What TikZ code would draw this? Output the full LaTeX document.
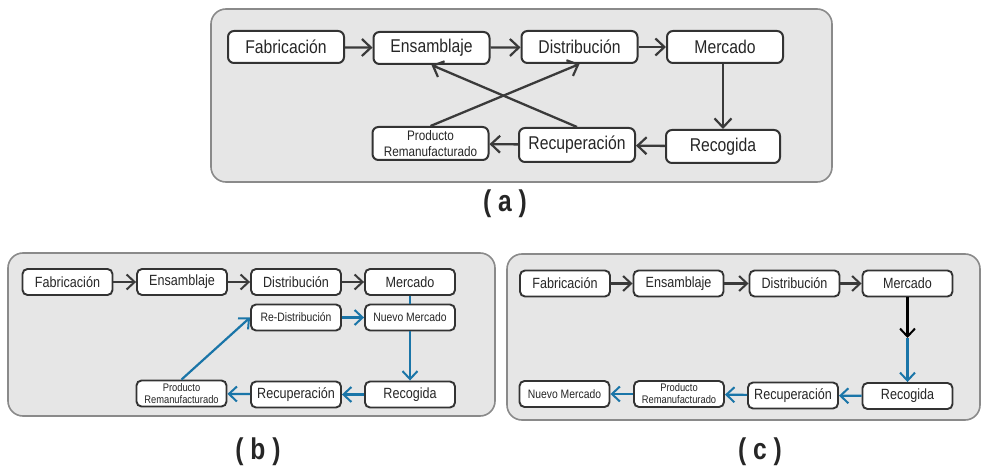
\documentclass[tikz,border=0pt]{standalone}
\usepackage{fontspec}
\newfontfamily\nf[FakeStretch=0.85]{Liberation Sans}
\newfontfamily\nfl[FakeStretch=0.82]{Liberation Sans}
\usetikzlibrary{arrows.meta}
\definecolor{panelfill}{HTML}{E6E6E6}
\definecolor{panelline}{HTML}{8A8A8A}
\definecolor{boxline}{HTML}{333333}
\definecolor{arrgray}{HTML}{3A3A3A}
\definecolor{arrblue}{HTML}{1A75A8}
\tikzset{
  panel/.style={draw=panelline, fill=panelfill, line width=1.6pt, rounded corners=15pt},
  bigbox/.style={draw=boxline, fill=white, line width=2pt, rounded corners=6pt,
     minimum width=116pt, minimum height=32pt, inner sep=0pt, align=center,
     text=black!85, font=\nf\fontsize{18.5}{20}\selectfont},
  bigsmall/.style={bigbox, font=\nf\fontsize{13.8}{15.5}\selectfont},
  smbox/.style={draw=boxline, fill=white, line width=1.9pt, rounded corners=5pt,
     minimum width=90pt, minimum height=26pt, inner sep=0pt, align=center,
     text=black!85, font=\nf\fontsize{14.8}{16}\selectfont},
  smsmall/.style={smbox, font=\nf\fontsize{12.2}{13}\selectfont},
  smtiny/.style={smbox, font=\nf\fontsize{11}{12}\selectfont},
  tipA/.tip={Straight Barb[length=9pt,width=17pt,line width=2.2pt]},
  tipB/.tip={Straight Barb[length=8pt,width=15pt,line width=2pt]},
  garr/.style={draw=arrgray, line width=2.3pt, -tipA},
  barr/.style={draw=arrblue, line width=2.3pt, -tipA},
  garrs/.style={draw=arrgray, line width=2.2pt, -tipB},
  barrs/.style={draw=arrblue, line width=2.2pt, -tipB},
  bline/.style={draw=arrblue, line width=2.2pt},
  lab/.style={font=\nfl\bfseries\fontsize{30}{34}\selectfont, text=black!85}
}
\begin{document}
\begin{tikzpicture}[x=1pt,y=-1pt]
\useasboundingbox (0,0) rectangle (983,468);
% ---------------- panel (a)
\draw[panel] (211,9) rectangle (832,182);
\node[bigbox] (aF) at (286,47) {Fabricación};
\node[bigbox] (aE) at (431.5,48) {Ensamblaje};
\node[bigbox] (aD) at (579.5,47) {Distribución};
\node[bigbox] (aM) at (725,47) {Mercado};
\node[bigsmall, minimum height=33pt] (aP) at (430.5,143.5) {Producto\\Remanufacturado};
\node[bigbox, minimum height=34pt] (aR) at (577,145) {Recuperación};
\node[bigbox, minimum width=114pt, minimum height=33pt] (aG) at (723,146.5) {Recogida};
\draw[garr] (aF) -- (aE);
\draw[garr] (aE) -- (aD);
\draw[garr] (aD) -- (aM);
\draw[garr] (aM.south -| aG.north) -- (aG.north);
\draw[garr] (aG) -- (aR);
\draw[garr] (aR) -- (aP);
\draw[garr] (aP.north) -- (aD.south);
\draw[garr] (aR.north) -- (aE.south);
\node[lab] (la) at (505,204) {( a )};
% ---------------- panel (b)
\draw[panel] (8,253) rectangle (495,416);
\node[smbox] (bF) at (67.5,282) {Fabricación};
\node[smbox] (bE) at (182,282) {Ensamblaje};
\node[smbox] (bD) at (296,282) {Distribución};
\node[smbox] (bM) at (410,282) {Mercado};
\node[smsmall] (bX) at (296,317.5) {Re-Distribución};
\node[smsmall] (bN) at (410,317.5) {Nuevo Mercado};
\node[smtiny] (bP) at (181.5,393.5) {Producto\\Remanufacturado};
\node[smbox] (bR) at (296,394.5) {Recuperación};
\node[smbox] (bG) at (410,394.5) {Recogida};
\draw[garrs] (bF) -- (bE);
\draw[garrs] (bE) -- (bD);
\draw[garrs] (bD) -- (bM);
\draw[bline] (bM) -- (bN);
\draw[barrs] (bN) -- (bG);
\draw[barrs] (bG) -- (bR);
\draw[barrs] (bR) -- (bP);
\draw[barrs] (bP.north) -- (bX.west);
\draw[barrs] (bX) -- (bN);
\node[lab] (lb) at (258,452) {( b )};
% ---------------- panel (c)
\draw[panel] (507,254) rectangle (980,420);
\node[smbox] (cF) at (565,283.5) {Fabricación};
\node[smbox] (cE) at (678.5,283.5) {Ensamblaje};
\node[smbox] (cD) at (794.5,283.5) {Distribución};
\node[smbox] (cM) at (907.5,283.5) {Mercado};
\node[smsmall] (cN) at (564.5,394) {Nuevo Mercado};
\node[smtiny] (cP) at (679,394) {Producto\\Remanufacturado};
\node[smbox] (cR) at (793,395.5) {Recuperación};
\node[smbox] (cG) at (907.5,396) {Recogida};
\coordinate (cK) at (907.5,338);
\draw[garrs] (cF) -- (cE);
\draw[garrs] (cE) -- (cD);
\draw[garrs] (cD) -- (cM);
\draw[garrs, draw=black] (cM) -- (cK);
\draw[barrs] (cK) -- (cG);
\draw[barrs] (cG) -- (cR);
\draw[barrs] (cR) -- (cP);
\draw[barrs] (cP) -- (cN);
\node[lab] (lc) at (760,452) {( c )};
\end{tikzpicture}
\end{document}
